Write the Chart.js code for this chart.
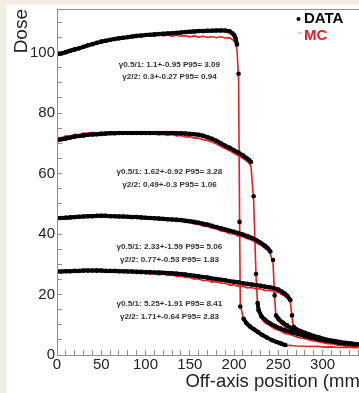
<!DOCTYPE html>
<html>
<head>
<meta charset="utf-8">
<script src="https://cdn.jsdelivr.net/npm/chart.js@4.4.1/dist/chart.umd.min.js"></script>
<style>
  html, body { margin: 0; padding: 0; overflow: hidden; background: #f1ece4; width: 359px; height: 393px; }
  #wrap { position: absolute; left: 6px; top: 5px; width: 353px; height: 388px; background: #fff; overflow: hidden; }
</style>
</head>
<body>
<div id="wrap"><canvas id="doseChart" width="400" height="388"></canvas></div>
<script>
// off-axis positions (mm) and doses, one profile per depth
var xs1 = [0,5,10,15,20,25,30,35,40,45,50,55,60,65,70,75,80,85,90,95,100,105,110,115,120,125,130,135,140,145,150,155,160,165,170,175,180,185,190,195,
  198,200,201.8,203.3,205.1,206.2,207,210.7,214,218,222,227,232,237,243,248,253,258];
var data1 = [99.4,99.7,100.1,100.6,101.0,101.4,101.9,102.4,102.8,103.2,103.6,103.9,104.2,104.5,104.7,104.9,105.1,105.3,105.5,105.6,
  105.8,105.9,106.0,106.1,106.2,106.3,106.4,106.5,106.6,106.8,106.9,107.0,107.1,107.1,107.2,107.2,107.3,107.3,107.3,107.0,
  106.4,105.8,104.6,102.7,93.0,44.0,16.0,12.0,10.5,9.4,8.6,7.6,6.6,5.8,4.9,4.3,3.8,3.3];
var mc1 = [100.3,99.9,100.7,100.9,101.6,101.3,102.2,102.5,103.1,103.0,103.8,104.2,104.0,104.7,104.5,105.1,104.8,105.4,105.2,105.7,
  105.3,105.8,105.4,105.9,105.5,105.8,105.3,105.7,105.4,105.6,105.2,105.5,105.1,105.4,105.0,105.3,104.9,105.2,104.8,104.9,
  104.3,103.9,103.0,101.0,91.0,46.0,17.0,11.6,10.0,9.0,8.1,7.2,6.2,5.5,4.5,3.9,3.5,3.0];
var mcTailX1 = [263,270,278,286,294,302,310,318,326,335,345];
var mcTail1 = [3.2,3.0,2.9,2.8,2.9,2.6,2.7,2.5,2.6,2.4,2.4];

var xs2 = [0,5,10,15,20,25,30,35,40,45,50,55,60,65,70,75,80,85,90,95,100,105,110,115,120,125,130,135,140,145,150,155,160,165,170,175,180,185,190,195,200,205,210,
  214,217,219.1,222.1,224.8,226.6,227.7,231,235,240,246,252,258,265,272,280,288,296,304,312,320];
var data2 = [71.0,71.3,71.6,71.9,72.2,72.4,72.6,72.8,72.9,73.0,73.1,73.2,73.3,73.3,73.4,73.4,73.4,73.4,73.4,73.4,
  73.4,73.4,73.4,73.4,73.4,73.4,73.4,73.3,73.3,73.2,73.1,73.0,72.8,72.5,72.0,71.5,70.8,70.0,69.2,68.5,67.7,66.9,66.0,
  65.1,64.5,63.8,52.5,26.8,17.2,14.8,12.8,11.6,10.6,9.6,8.8,8.1,7.5,6.9,6.3,5.7,5.2,4.8,4.4,4.1];
var mc2 = [71.9,71.8,72.5,72.4,73.0,72.8,73.4,73.2,73.6,73.3,73.7,73.4,73.8,73.3,73.6,73.2,73.5,73.1,73.4,73.0,
  73.3,72.9,73.2,72.8,73.0,72.6,72.9,72.4,72.6,72.1,72.2,71.7,71.7,71.2,70.9,70.4,69.8,69.0,68.3,67.5,66.7,65.9,65.0,
  64.2,63.4,62.4,51.0,26.0,16.4,14.0,12.0,10.6,9.8,8.6,8.0,7.0,6.6,5.8,5.4,4.7,4.4,3.8,3.7,3.3];
var mcTailX2 = [328,336,345];
var mcTail2 = [3.0,3.1,2.8];

var xs3 = [0,5,10,15,20,25,30,35,40,45,50,55,60,65,70,75,80,85,90,95,100,105,110,115,120,125,130,135,140,145,150,155,160,165,170,175,180,185,190,195,200,205,210,215,220,225,230,235,
  238,241,244,245.8,247.4,250,255,260,265,270,276,282,288,294,300,306,312,318,324,330,336];
var data3 = [45.2,45.3,45.4,45.5,45.6,45.7,45.8,45.9,45.9,46.0,46.0,46.0,45.9,45.9,45.8,45.8,45.7,45.6,45.6,45.5,
  45.4,45.3,45.2,45.1,45.0,44.9,44.8,44.7,44.6,44.4,44.2,44.0,43.7,43.4,43.1,42.7,42.3,41.9,41.5,41.1,
  40.7,40.3,39.8,39.3,38.7,38.0,37.1,36.1,
  35.3,34.2,31.4,19.7,13.1,12.0,10.7,9.7,8.8,8.0,7.3,6.6,6.0,5.5,5.1,4.7,4.4,4.1,3.9,3.7,3.5];
var mc3 = [45.6,45.0,45.8,45.3,46.0,45.5,46.2,45.6,46.3,45.7,46.3,45.8,46.2,45.6,46.1,45.5,46.0,45.3,45.8,45.2,
  45.6,45.0,45.4,44.8,45.2,44.5,44.8,44.2,44.4,43.8,43.9,43.3,43.2,42.6,42.5,41.9,41.7,41.0,40.8,40.1,
  40.0,39.3,39.1,38.4,38.0,37.1,36.4,35.2,
  34.6,33.4,30.5,19.0,12.4,11.2,9.9,8.6,8.0,6.9,6.5,5.6,5.3,4.5,4.4,3.8,3.7,3.2,3.3,2.9,2.9];
var mcTailX3 = [342,349];
var mcTail3 = [2.7,2.8];

var xs4 = [0,5,10,15,20,25,30,35,40,45,50,55,60,65,70,75,80,85,90,95,100,105,110,115,120,125,130,135,140,145,150,155,160,165,170,175,180,185,190,195,200,205,210,215,220,225,230,235,240,245,250,
  254,257,260,263.6,265.5,267.3,270,275,280,285,290,296,302,308,314,320,326,332,338,344];
var data4 = [27.6,27.6,27.7,27.7,27.8,27.8,27.9,27.9,27.9,27.9,27.9,27.8,27.8,27.8,27.7,27.7,27.6,27.6,27.5,27.5,
  27.4,27.4,27.3,27.3,27.2,27.1,27.0,26.9,26.8,26.6,26.4,26.2,26.0,25.8,25.6,25.3,25.1,24.9,24.7,24.4,
  24.2,24.0,23.7,23.5,23.3,23.1,22.9,22.6,22.4,22.1,21.6,
  20.9,20.3,19.6,18.2,13.1,9.3,8.6,7.9,7.3,6.8,6.3,5.8,5.3,4.9,4.6,4.3,4.0,3.8,3.6,3.4];
var mc4 = [28.0,27.3,28.1,27.4,28.2,27.5,28.1,27.6,28.2,27.5,28.0,27.4,27.9,27.3,27.8,27.2,27.6,27.1,27.4,26.9,
  27.2,26.7,27.0,26.5,26.8,26.3,26.5,26.0,26.1,25.6,25.6,25.1,25.2,24.6,24.7,24.1,24.2,23.7,23.7,23.1,
  23.2,22.7,22.7,22.2,22.3,21.8,21.9,21.3,21.4,20.9,20.7,
  20.0,19.5,18.8,17.4,12.5,8.6,7.7,7.2,6.4,6.0,5.3,5.0,4.4,4.1,3.7,3.5,3.1,3.0,2.8,2.8];
var mcTailX4 = [349];
var mcTail4 = [2.7];

// gamma index summary printed next to each profile
var gammaNotes = [
  ['γ0.5/1: 1.1+-0.95 P95= 3.09', 'γ2/2: 0.3+-0.27 P95= 0.94'],
  ['γ0.5/1: 1.62+-0.92 P95= 3.28', 'γ2/2: 0.49+-0.3 P95= 1.06'],
  ['γ0.5/1: 2.33+-1.59 P95= 5.06', 'γ2/2: 0.77+-0.53 P95= 1.83'],
  ['γ0.5/1: 5.25+-1.91 P95= 8.41', 'γ2/2: 1.71+-0.64 P95= 2.83']
];

var FONT = "'Liberation Sans', Arial, Helvetica, sans-serif";
Chart.defaults.font.family = FONT;
Chart.defaults.color = '#222';

function pairUp(xs, ys) {
  return xs.map(function (x, i) { return { x: x, y: ys[i] }; });
}

function measured(xs, ys) {
  return {
    label: 'DATA',
    data: pairUp(xs, ys),
    borderColor: '#000',
    borderWidth: 4,
    pointRadius: 2.3,
    pointBackgroundColor: '#000',
    pointBorderWidth: 0,
    segment: {
      // only dots on the steep penumbra, like the ROOT markers
      borderColor: function (ctx) {
        return Math.abs(ctx.p1.parsed.y - ctx.p0.parsed.y) > 2.5 ? 'rgba(0,0,0,0)' : '#000';
      }
    }
  };
}

function simulated(xs, ys, tailX, tailY) {
  return {
    label: 'MC',
    data: pairUp(xs.concat(tailX), ys.concat(tailY)),
    borderColor: '#ea1c24',
    borderWidth: 1.6,
    pointRadius: 0
  };
}

// keeps 'γ' notes and the DATA/MC key as canvas text
var notesPlugin = {
  id: 'notes',
  afterDraw: function (chart) {
    var ctx = chart.ctx, xs = chart.scales.x, ys = chart.scales.y, a = chart.chartArea;
    ctx.save();
    ctx.strokeStyle = '#8f8f8f';
    ctx.lineWidth = 1;
    ctx.strokeRect(a.left + 0.5, a.top + 0.5, a.right - a.left, a.bottom - a.top);

    var noteDose = [[96.1, 92.1], [60.7, 56.4], [35.7, 31.5], [17.0, 12.5]];
    ctx.font = 'bold 8.1px ' + FONT;
    ctx.fillStyle = '#333';
    ctx.textAlign = 'center';
    ctx.textBaseline = 'middle';
    gammaNotes.forEach(function (pair, i) {
      pair.forEach(function (line, j) {
        ctx.fillText(line, xs.getPixelForValue(127), ys.getPixelForValue(noteDose[i][j]));
      });
    });

    ctx.textAlign = 'left';
    ctx.font = 'bold 15px ' + FONT;
    ctx.fillStyle = '#000';
    ctx.beginPath();
    ctx.arc(292.5, 14, 2, 0, Math.PI * 2);
    ctx.fill();
    ctx.fillText('DATA', 298, 13.5);
    ctx.fillStyle = 'rgba(255,120,120,0.55)';
    ctx.beginPath();
    ctx.arc(294, 28, 1.5, 0, Math.PI * 2);
    ctx.fill();
    ctx.fillStyle = '#ea1c24';
    ctx.fillText('MC', 298, 31);
    ctx.restore();
  }
};

new Chart(document.getElementById('doseChart').getContext('2d'), {
  type: 'line',
  data: {
    datasets: [
      measured(xs1, data1), measured(xs2, data2), measured(xs3, data3), measured(xs4, data4),
      simulated(xs1, mc1, mcTailX1, mcTail1), simulated(xs2, mc2, mcTailX2, mcTail2),
      simulated(xs3, mc3, mcTailX3, mcTail3), simulated(xs4, mc4, mcTailX4, mcTail4)
    ]
  },
  options: {
    responsive: false,
    animation: false,
    devicePixelRatio: 1,
    layout: { padding: { left: 0, top: 1, right: 40, bottom: 0 } },
    plugins: { legend: { display: false }, tooltip: { enabled: false } },
    scales: {
      x: {
        type: 'linear',
        min: 0,
        max: 349,
        afterFit: function (s) { s.height = 38; s.paddingLeft = 0; s.paddingRight = 0; },
        grid: { drawOnChartArea: false, drawTicks: true, tickLength: -5, tickColor: '#8f8f8f' },
        border: { display: true, color: '#8f8f8f' },
        ticks: {
          stepSize: 10,
          includeBounds: false,
          autoSkip: false,
          maxRotation: 0,
          padding: 6,
          font: { size: 15 },
          color: '#222',
          callback: function (v) { return v % 50 === 0 ? v : ''; }
        },
        title: {
          display: true,
          text: 'Off-axis position (mm)',
          align: 'end',
          color: '#222',
          font: { size: 18.5 },
          padding: { top: 0, bottom: 0 }
        }
      },
      y: {
        min: 0,
        max: 114.4,
        afterFit: function (s) { s.width = 51; s.paddingTop = 0; s.paddingBottom = 0; },
        grid: { drawOnChartArea: false, drawTicks: true, tickLength: -5, tickColor: '#8f8f8f' },
        border: { display: true, color: '#8f8f8f' },
        ticks: {
          stepSize: 5,
          includeBounds: false,
          autoSkip: false,
          padding: 7,
          font: { size: 15 },
          color: '#222',
          callback: function (v) { return v % 20 === 0 ? v : ''; }
        },
        title: {
          display: true,
          text: 'Dose',
          align: 'end',
          color: '#222',
          font: { size: 19 },
          padding: { top: 4, bottom: 0 }
        }
      }
    }
  },
  plugins: [notesPlugin]
});
</script>
</body>
</html>
